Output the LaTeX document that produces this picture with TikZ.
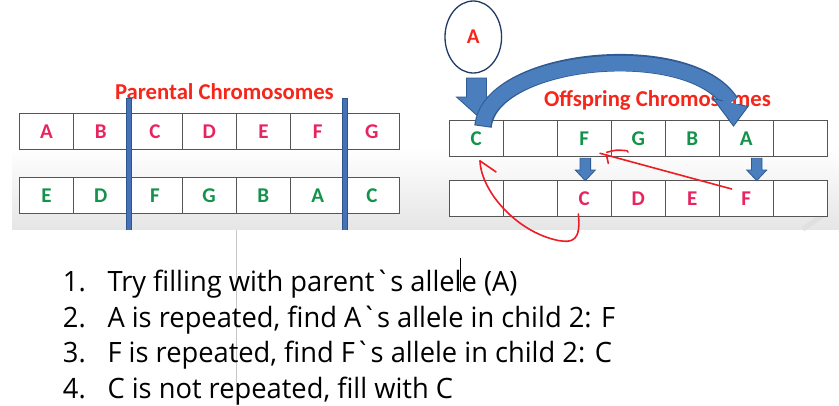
\documentclass[tikz,border=0pt]{standalone}
\usepackage{fontspec}
\setmainfont{Carlito}
\newfontfamily\listfont{Open Sans}[Ligatures=TeXOff]
\usetikzlibrary{arrows.meta,calc,shapes.geometric}
\definecolor{pinkL}{HTML}{E8245F}
\definecolor{greenL}{HTML}{13934A}
\definecolor{titleR}{HTML}{F5261A}
\definecolor{barB}{HTML}{4472B4}
\definecolor{barBd}{HTML}{2F5590}
\definecolor{arrB}{HTML}{4A7EBD}
\definecolor{arrBd}{HTML}{2F5A92}
\definecolor{navy}{HTML}{1F3A68}
\definecolor{penR}{HTML}{EE1C24}
\definecolor{cellline}{HTML}{555555}
\newlength\lenB
\newcommand\blockdown[6]{%
  \filldraw[fill=arrB,draw=arrBd,line width=0.8pt,line join=miter]
    (#1-#5,#2) -- (#1+#5,#2) -- (#1+#5,#3) -- (#1+#6,#3) -- (#1,#4)
    -- (#1-#6,#3) -- (#1-#5,#3) -- cycle;}
\begin{document}
\settowidth\lenB{\listfont\fontsize{28}{28}\selectfont A is repeated, find A`s allele in child 2: F}
\pgfmathsetmacro\sx{507.7/\lenB}
\begin{tikzpicture}[x=1pt,y=-1pt,
  cell/.style={draw=cellline,line width=0.9pt,fill=white,minimum height=36pt,
    inner sep=0pt,font=\bfseries\fontsize{21}{21}\selectfont},
  title/.style={text=titleR,inner sep=0pt,anchor=base,font=\bfseries\fontsize{22.7}{22.7}\selectfont},
  pen/.style={penR,line width=1.6pt,line cap=round,line join=round},
  listtxt/.style={anchor=base west,inner sep=0pt,font=\listfont\fontsize{28}{28}\selectfont}]
\useasboundingbox (0,0) rectangle (839,405);
\fill[white] (0,0) rectangle (839,405);
\shade[top color=white,bottom color=black!10] (12,148) rectangle (839,229.5);
\draw[black!12,line width=5pt] (803,229) -- (826,213);

% ---------- parental chromosomes ----------
\node[title] (ptitle) at (224.4,99.3) {Parental Chromosomes};
\foreach \l [count=\i from 0] in {A,B,C,D,E,F,G}
  \node[cell,minimum width=54.24pt,text=pinkL] (pa-\i) at ({19.3+54.24*(\i+0.5)},131.2) {\l};
\foreach \l [count=\i from 0] in {E,D,F,G,B,A,C}
  \node[cell,minimum width=54.24pt,text=greenL] (pb-\i) at ({19.3+54.24*(\i+0.5)},195.6) {\l};
\foreach \xx in {129,345}{
  \draw[barBd,line width=6pt] (\xx,98) -- (\xx,229.5);
  \draw[barB,line width=3.4pt] (\xx,98.6) -- (\xx,229.5);
}

% ---------- offspring chromosomes ----------
\node[title] (otitle) at (657.5,106) {Offspring Chromosomes};
\foreach \l [count=\i from 0] in {C,{},F,G,B,A,{}}
  \node[cell,minimum width=54pt,text=greenL] (ra-\i) at ({449.3+54*(\i+0.5)},138.7) {\l};
\foreach \l [count=\i from 0] in {{},{},C,D,E,F,{}}
  \node[cell,minimum width=54pt,minimum height=36.7pt,text=pinkL] (rb-\i) at ({449.3+54*(\i+0.5)},198.3) {\l};

\node[draw=navy,line width=1.3pt,ellipse,minimum width=56.6pt,minimum height=72pt,
  fill=white,text=titleR,inner sep=0pt,font=\bfseries\fontsize{21}{21}\selectfont] (circ) at (473.3,37) {A};

% block arrows
\blockdown{476.5}{78}{97}{115}{10}{20}
\blockdown{585.3}{158.3}{170}{180.7}{5.3}{10}
\blockdown{756.7}{158.3}{170}{180.7}{5.3}{10}

% big curved arrow (C cell -> A cell)
\coordinate (tailB) at ($(ra-0.north)+(6.7,6.3)$);
\coordinate (tailA) at ($(ra-0.north)+(6.7,5.3)$);
\coordinate (hT) at ($(ra-5.north)+(-12.8,5.8)$);
\coordinate (hL) at ($(hT)+(-20.5,-27.5)$);
\coordinate (hR) at ($(hT)+(14.5,-19.5)$);
\coordinate (hM) at ($(hL)!0.5!(hR)$);
\draw[arrBd,line width=17.5pt] (tailB) .. controls (490,56) and (690,38) .. (hM);
\draw[arrB,line width=15pt] (tailA) .. controls (490,57) and (690,39) .. (hM);
\fill[arrB] (hL) -- (hT) -- (hR) -- cycle;
\draw[arrBd,line width=0.9pt,line join=miter] ($(hL)!0.28!(hR)$) -- (hL) -- (hT) -- (hR) -- ($(hR)!0.28!(hL)$);

% red pen strokes
\coordinate (fstart) at ($(rb-5)+(-14.6,-9.3)$);
\coordinate (ftip) at ($(ra-2)+(15.7,14.6)$);
\draw[pen] (fstart) -- (ftip);
\draw[pen] ($(ftip)+(6.5,1.7)$) -- ($(ftip)+(8.3,10)$);
\draw[pen] ($(ftip)+(6.7,-1)$) .. controls ($(ftip)+(16,-3.5)$) .. ($(ftip)+(27,-2.6)$) -- ($(ftip)+(28,-1.2)$);
\coordinate (cstart) at ($(rb-2)+(-6,15.7)$);
\coordinate (ctip) at ($(ra-0)+(3.7,22.2)$);
\draw[pen] (cstart) .. controls ($(cstart)+(3,27)$) and ($(cstart)+(-6,29)$) .. ($(cstart)+(-20,26.5)$)
  .. controls ($(cstart)+(-62,18)$) and ($(ctip)+(1,30)$) .. (ctip);
\draw[pen] (ctip) -- ($(ctip)+(16,11)$);

% ---------- text list ----------
\draw[black!22,line width=1.5pt] (236.7,229.5) -- (236.7,405);
\node[listtxt] (n1) at (62.7,291) {\scalebox{\sx}[1]{1.}};
\node[listtxt] (n2) at (62.7,327.5) {\scalebox{\sx}[1]{2.}};
\node[listtxt] (n3) at (62.7,362.5) {\scalebox{\sx}[1]{3.}};
\node[listtxt] (n4) at (62.7,398.3) {\scalebox{\sx}[1]{4.}};
\node[listtxt] (t1) at (107.3,291) {\scalebox{\sx}[1]{Try filling with parent`s allele (A)}};
\node[listtxt] (t2) at (107.3,327.5) {\scalebox{\sx}[1]{A is repeated, find A`s allele in child 2: F}};
\node[listtxt] (t3) at (107.3,362.5) {\scalebox{\sx}[1]{F is repeated, find F`s allele in child 2: C}};
\node[listtxt] (t4) at (107.3,398.3) {\scalebox{\sx}[1]{C is not repeated, fill with C}};
\draw[black,line width=0.8pt] (460.3,258) -- (460.3,291.7);
\end{tikzpicture}
\end{document}
